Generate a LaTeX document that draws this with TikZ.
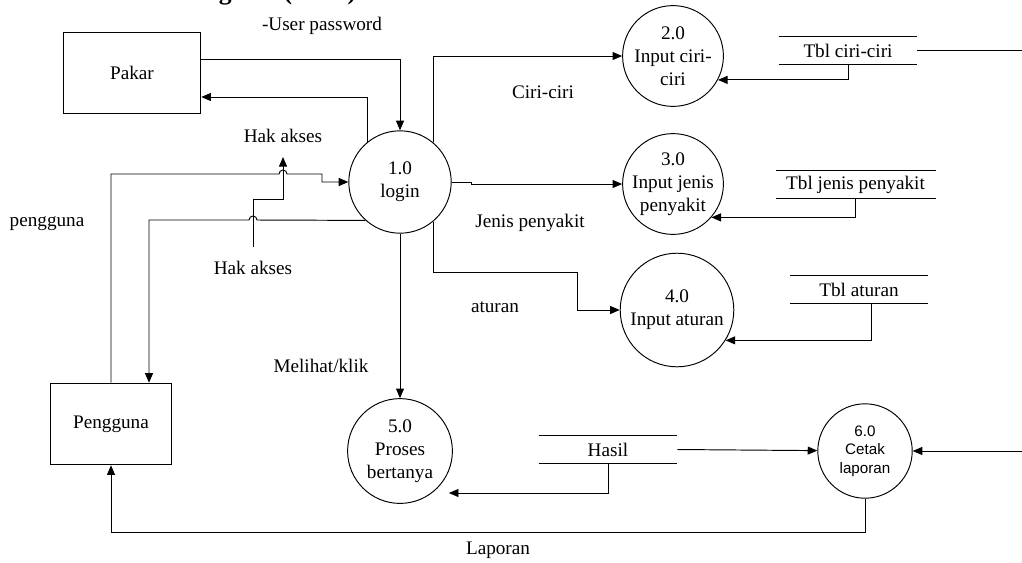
\documentclass[tikz,border=0pt]{standalone}
\usepackage{fontspec}
\setmainfont{Liberation Serif}
\newfontfamily\arialfont{Liberation Sans}
\usetikzlibrary{positioning,arrows.meta,calc}

\begin{document}
\begin{tikzpicture}[x=0.625pt, y=-0.625pt, line width=.6pt, font=\fontsize{12}{14.4}\selectfont,
	c/.style={circle, draw, inner sep=-8pt, align=center},
	b/.style={draw, minimum height=51pt},
	st/.style={inner sep=0pt, minimum height=17pt},
	f/.style={-{Triangle[length=6pt, width=5pt]}}]
		\useasboundingbox (0,0) rectangle (1022,562);
		\clip (0,0) rectangle (1022,562);
		\node[font=\bfseries\fontsize{16}{19}\selectfont, anchor=base east] (title) at (362,-1) {Diagram (DAD)};

		\node[b, minimum width=86pt] (pakar) at (132,73) {Pakar};
		\node[b, minimum width=76pt] (pengguna) at (111,424) {Pengguna};
		\node[c, minimum size=64pt] (p1) at (400,182) {1.0\\login};
		\node[c, minimum size=63pt] (p2) at (673,56) {2.0\\Input ciri-\\ciri};
		\node[c, minimum size=63pt] (p3) at (673,184) {3.0\\Input jenis\\penyakit};
		\node[c, minimum size=71pt] (p4) at (677,310) {4.0\\Input aturan};
		\node[c, minimum size=65.5pt] (p5) at (400,451) {5.0\\Proses\\bertanya};
		\node[c, minimum size=59pt, font=\arialfont\fontsize{9.5}{11.5}\selectfont] (p6) at (865,451) {6.0\\Cetak\\laporan};

		\node[st, minimum width=86pt] (t1) at (848,50.5) {Tbl ciri-ciri};
		\node[st, minimum width=99.4pt] (t2) at (855.5,184.5) {Tbl jenis penyakit};
		\node[st, minimum width=86pt] (t3) at (859,289.5) {Tbl aturan};
		\node[st, minimum width=86pt] (t4) at (608,449.5) {Hasil};
		\foreach \s in {t1,t2,t3,t4}
			\draw (\s.north west) -- (\s.north east) (\s.south west) -- (\s.south east);

		\coordinate (b1) at (322,174);
		\coordinate (h1) at (283,174);
		\coordinate (b2) at (149,220);
		\coordinate (h2) at (253,220);
		\coordinate (hk0) at (253,247);
		\coordinate (hk1) at (283,199);
		\coordinate (hk2) at (283,157);
		\coordinate (b4) at (577,272);
		\coordinate (b6) at (111,532);
		\coordinate (r1) at (1022,50.5);
		\coordinate (r6) at (1022,451);

		\node (user_label) at (322,26) {-User password};
		\node[above=5.5pt of hk2] (hak1_label) {Hak akses};
		\node[below=5pt of hk0] (hak2_label) {Hak akses};
		\node (pengguna_label) at (47,224) {pengguna};
		\node (ciri_label) at (543,92) {Ciri-ciri};
		\node (jenis_label) at (530,223) {Jenis penyakit};
		\node (aturan_label) at (495,307) {aturan};
		\node (klik_label) at (321,366) {Melihat/klik};
		\node (laporan_label) at (498,550) {Laporan};

		\draw[f] (pakar.east) ++(0,-14) -| (p1.north);
		\draw[f] (p1.129) |- ($(pakar.east)+(0,24)$);
		\draw[f] (pengguna.north) |- ($(h1)+(-4,0)$) arc[start angle=180, end angle=0, radius=2.5pt] -- (b1) |- (p1.west);
		\draw[f] (p1.228) -- ($(h2)+(4,0)$) arc[start angle=0, end angle=180, radius=2.5pt] -- (b2) -- (b2 |- pengguna.north);
		\draw[f] (hk0) |- (hk1) -- (hk2);
		\draw[f] (p1.50) |- (p2.west);
		\draw[f] (p1.east) -- ++(20,0) |- (p3.west);
		\draw[f] (p1.-50) |- (b4) |- (p4.west);
		\draw[f] (p1.south) -- (p5.north);
		\draw[f] (t1.south) |- (p2.-28);
		\draw (t1.east) -- (r1);
		\draw[f] (t2.south) |- (p3.-41);
		\draw[f] ($(t3.south)+(12,0)$) |- (p4.-32);
		\draw[f] (t4.east) -- (p6);
		\draw[f] (t4.south) |- ($(p5.east)+(-4,42)$);
		\draw[f] (r6) -- (p6.east);
		\draw[f] (p6.south) |- (b6) -- (pengguna.south);
	\end{tikzpicture}
\end{document}
